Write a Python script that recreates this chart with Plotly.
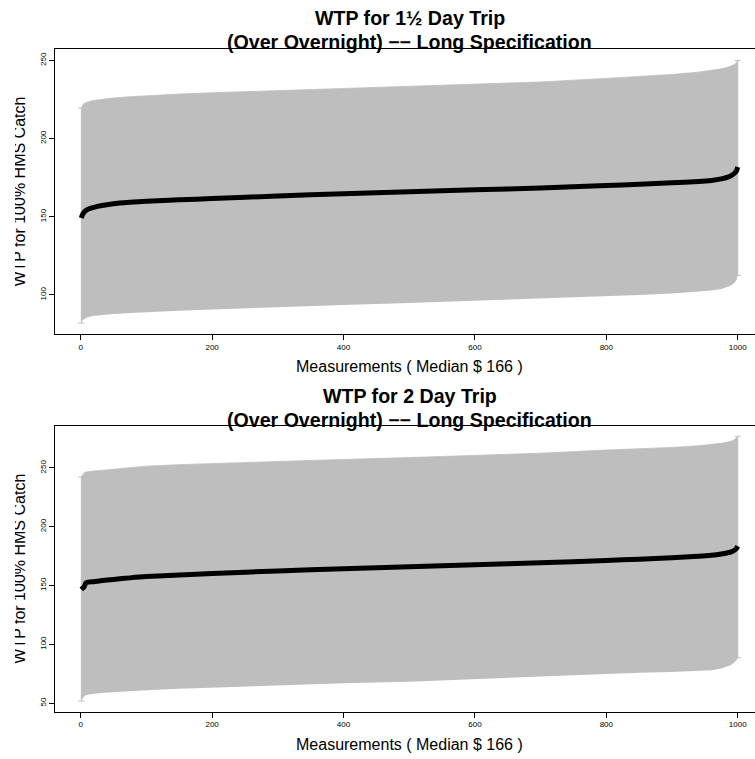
import plotly.graph_objects as go

# Sorted measurement index at which each estimate is recorded
measurement = [1, 2, 3, 5, 8, 12, 20, 30, 50, 75, 100, 150, 200, 300, 400,
               500, 600, 700, 800, 850, 900, 940, 960, 975, 985, 990, 995, 998, 1000]

# 1 1/2 day trip: point estimate with lower / upper bounds
wtp15_est = [149.2, 150.5, 151.5, 152.8, 154.0, 155.0, 156.0, 157.0, 158.3, 159.2,
             159.9, 160.8, 161.6, 163.3, 164.7, 166.0, 167.2, 168.4, 170.0, 170.8,
             171.7, 172.5, 173.2, 174.2, 175.3, 176.3, 177.8, 179.3, 181.8]
wtp15_low = [82.0, 83.0, 83.8, 84.6, 85.3, 85.9, 86.6, 87.1, 87.8, 88.4,
             89.0, 89.8, 90.6, 92.3, 93.6, 94.8, 96.2, 97.6, 99.2, 100.0,
             100.9, 101.9, 102.8, 103.8, 105.0, 106.0, 107.7, 109.6, 112.4]
wtp15_high = [219.5, 220.8, 221.5, 222.3, 223.0, 223.6, 224.4, 225.0, 226.0, 226.8,
              227.5, 228.5, 229.3, 230.7, 232.0, 233.3, 234.6, 236.2, 238.5, 239.6,
              241.0, 242.5, 243.5, 244.6, 245.6, 246.3, 247.4, 248.5, 250.0]

# 2 day trip: point estimate with lower / upper bounds
wtp2_est = [146.6, 147.2, 147.8, 148.6, 152.3, 152.9, 153.3, 154.0, 155.2, 156.5,
            157.6, 159.0, 160.2, 162.4, 164.3, 166.0, 167.7, 169.3, 171.3, 172.4,
            173.6, 174.8, 175.7, 176.8, 177.9, 178.6, 180.0, 181.5, 183.4]
wtp2_low = [51.7, 53.0, 54.5, 55.7, 56.8, 57.4, 58.0, 58.6, 59.4, 60.2,
            61.0, 62.3, 63.3, 65.2, 66.8, 68.2, 70.5, 72.8, 75.0, 75.8,
            76.5, 77.2, 78.0, 79.5, 81.2, 82.5, 84.8, 86.5, 88.6]
wtp2_high = [242.4, 243.5, 244.5, 245.5, 246.5, 247.0, 247.4, 247.8, 248.8, 250.0,
             251.5, 252.8, 253.8, 255.5, 257.2, 258.8, 260.6, 262.5, 265.2, 266.2,
             267.4, 268.8, 269.8, 270.9, 272.0, 272.6, 274.0, 275.3, 276.9]

x_ticks = [0, 200, 400, 600, 800, 1000]
y_ticks_15 = [100, 150, 200, 250]
y_ticks_2 = [50, 100, 150, 200, 250]

title_15 = ["WTP for 1½ Day Trip", "(Over Overnight) −− Long Specification"]
title_2 = ["WTP for 2 Day Trip", "(Over Overnight) −− Long Specification"]
x_title = "Measurements ( Median $ 166 )"
y_title = "WTP for 100% HMS Catch"

W, H = 755, 759
L_MARGIN = 55
FONT = "Liberation Sans, Arial, Helvetica, sans-serif"
BAND = "#BEBEBE"

fig = go.Figure()


def py(pixel_y):
    """Convert a pixel row to paper y (top/bottom margins are zero)."""
    return 1 - pixel_y / H


def px(pixel_x):
    """Convert a pixel column to paper x."""
    return (pixel_x - L_MARGIN) / (W - L_MARGIN)


def add_panel(n, est, low, high):
    xa = "x" if n == 1 else f"x{n}"
    ya = "y" if n == 1 else f"y{n}"
    # lower edge of the interval band
    fig.add_trace(go.Scatter(x=measurement, y=low, mode="lines",
                             line=dict(width=0, color=BAND), hoverinfo="skip",
                             showlegend=False, xaxis=xa, yaxis=ya))
    # upper edge, filled down to the lower edge
    fig.add_trace(go.Scatter(x=measurement, y=high, mode="lines", fill="tonexty",
                             fillcolor=BAND, line=dict(width=0.8, color=BAND),
                             hoverinfo="skip", showlegend=False, xaxis=xa, yaxis=ya))
    # capped interval bars at the first and last measurement
    ends = [0, len(measurement) - 1]
    fig.add_trace(go.Scatter(
        x=[measurement[i] for i in ends], y=[est[i] for i in ends], mode="markers",
        marker=dict(size=1, color="rgba(0,0,0,0)"),
        error_y=dict(type="data", symmetric=False,
                     array=[high[i] - est[i] for i in ends],
                     arrayminus=[est[i] - low[i] for i in ends],
                     color=BAND, thickness=1, width=3),
        hoverinfo="skip", showlegend=False, xaxis=xa, yaxis=ya))
    # sorted point estimates
    fig.add_trace(go.Scatter(x=measurement, y=est, mode="lines",
                             line=dict(width=5, color="black", shape="spline",
                                       smoothing=0.6),
                             showlegend=False, xaxis=xa, yaxis=ya))


add_panel(1, wtp15_est, wtp15_low, wtp15_high)
add_panel(2, wtp2_est, wtp2_low, wtp2_high)

x_common = dict(range=[-39.1, 1026.3], tickvals=x_ticks, ticks="outside", ticklen=5,
                tickwidth=1, tickcolor="black", showline=True, linecolor="black",
                linewidth=1, mirror=True, showgrid=False, zeroline=False,
                tickfont=dict(family=FONT, size=8, color="black"), domain=[0, 1])
y_common = dict(ticks="outside", ticklen=5, tickwidth=1, tickcolor="black",
                showline=True, linecolor="black", linewidth=1, mirror=False,
                showgrid=False, zeroline=False, tickangle=-90,
                tickfont=dict(family=FONT, size=8, color="black"))

fig.update_layout(
    width=W, height=H, autosize=False,
    margin=dict(l=L_MARGIN, r=0, t=0, b=0, pad=0),
    paper_bgcolor="white", plot_bgcolor="white",
    font=dict(family=FONT, color="black"),
    xaxis=dict(**x_common, anchor="y"),
    yaxis=dict(**y_common, range=[74.8, 257.3], tickvals=y_ticks_15,
               domain=[py(334.3), py(49)], anchor="x"),
    xaxis2=dict(**x_common, anchor="y2"),
    yaxis2=dict(**y_common, range=[42.7, 285.9], tickvals=y_ticks_2,
                domain=[py(711.7), py(425.7)], anchor="x2"),
)

annotations = []
panels = [(title_15, 17.5, 42.0, 367.0, 191.6),
          (title_2, 395.8, 419.7, 744.0, 568.7)]
for title, t1, t2, xt, yt in panels:
    for text, ypix in ((title[0], t1), (title[1], t2)):
        annotations.append(dict(text=f"<b>{text}</b>", xref="x", x=500.5,
                                yref="paper", y=py(ypix), xanchor="center",
                                yanchor="middle", showarrow=False,
                                font=dict(family=FONT, size=19.6, color="black")))
    annotations.append(dict(text=x_title, xref="x", x=500.5, yref="paper", y=py(xt),
                            xanchor="center", yanchor="middle", showarrow=False,
                            font=dict(family=FONT, size=16, color="black")))
    annotations.append(dict(text=y_title, xref="paper", x=px(20), yref="paper",
                            y=py(yt), xanchor="center", yanchor="middle",
                            textangle=-90, showarrow=False,
                            font=dict(family=FONT, size=16, color="black")))

# page edge strip along the left side
annotations.append(dict(text=" ", xref="paper", x=px(0), xanchor="left",
                        yref="paper", y=0.5, yanchor="middle", width=15, height=H,
                        bgcolor="white", borderpad=0, borderwidth=0, showarrow=False))
fig.update_layout(annotations=annotations)

fig.write_html("out.html")
